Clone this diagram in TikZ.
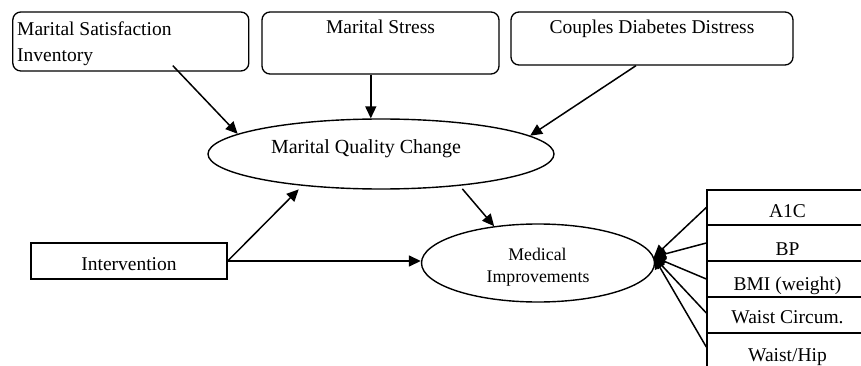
\documentclass[tikz,border=0pt]{standalone}
\usepackage{fontspec}
\setmainfont{Liberation Serif}
\usetikzlibrary{shapes.geometric,arrows.meta,calc}
\begin{document}
\begin{tikzpicture}[x=1pt,y=-1pt,
  rbox/.style={draw,rounded corners=8pt,line width=1.3pt,inner sep=0pt},
  sbox/.style={draw,line width=1.4pt,inner sep=0pt},
  ell/.style={draw,ellipse,line width=1.4pt,inner sep=0pt},
  txt/.style={font=\fontsize{19.5}{24}\selectfont,inner sep=0pt,anchor=base},
  stxt/.style={font=\fontsize{17.8}{22}\selectfont,inner sep=0pt,anchor=base},
  arr/.style={line width=1.5pt,-{Triangle[length=12pt,width=11pt]}}]
\useasboundingbox (0,0) rectangle (861,366);
\fill[white] (0,0) rectangle (861,366);
% boxes
\node[rbox,minimum width=236pt,minimum height=59pt] (msi) at (130.8,41.5) {};
\node[rbox,minimum width=237pt,minimum height=62pt] (ms) at (380.5,43) {};
\node[rbox,minimum width=282pt,minimum height=53pt] (cdd) at (652,38.5) {};
\node[ell,minimum width=346pt,minimum height=70pt] (mqc) at (381,154) {};
\node[sbox,minimum width=196pt,minimum height=36pt] (int) at (129,261) {};
\node[ell,minimum width=233pt,minimum height=78pt] (mi) at (538,263) {};
\node[sbox,minimum width=161pt,minimum height=35pt] (a1c) at (787.5,207.5) {};
\node[sbox,minimum width=161pt,minimum height=36pt] (bp) at (787.5,243) {};
\node[sbox,minimum width=161pt,minimum height=36pt] (bmi) at (787.5,279) {};
\node[sbox,minimum width=161pt,minimum height=36pt] (wc) at (787.5,315) {};
\node[sbox,minimum width=161pt,minimum height=36pt] (wh) at (787.5,351) {};
% texts
\node[txt,anchor=base west] (msit1) at (17,35.5) {Marital Satisfaction};
\node[txt,anchor=base west] (msit2) at (17,62) {Inventory};
\node[txt] (mst) at (380.5,34) {Marital Stress};
\node[txt] (cddt) at (652,34) {Couples Diabetes Distress};
\node[txt,font=\fontsize{20}{24}\selectfont] (mqct) at (366,153.3) {Marital Quality Change};
\node[txt] (intt) at (129,270.7) {Intervention};
\node[stxt] (mit1) at (537.5,260) {Medical};
\node[stxt] (mit2) at (538,282.7) {Improvements};
\node[txt] (a1ct) at (787.5,217) {A1C};
\node[txt] (bpt) at (787.5,255) {BP};
\node[txt] (bmit) at (787.5,290) {BMI (weight)};
\node[txt] (wct) at (787.5,323) {Waist Circum.};
\node[txt] (wht) at (787.5,361) {Waist/Hip};
% arrows
\draw[arr] ($(msi.south)+(42,-6)$) -- (mqc.172);
\draw[arr] (mqc.106 |- ms.south) -- (mqc.106);
\draw[arr] ($(cdd.south)+(-16,0)$) -- (mqc.7);
\draw[arr,shorten <=4pt] (mqc.-22) -- (mi.140);
\draw[arr,shorten >=5pt] (int.east) -- (mqc.202);
\draw[arr] (int.east) -- (int.east -| mi.west);
\foreach \n/\d in {a1c/0,bp/0,bmi/0,wc/-2,wh/-4}
  \draw[arr] ($(\n.west)+(0,\d)$) -- (mi.3);
\end{tikzpicture}
\end{document}
